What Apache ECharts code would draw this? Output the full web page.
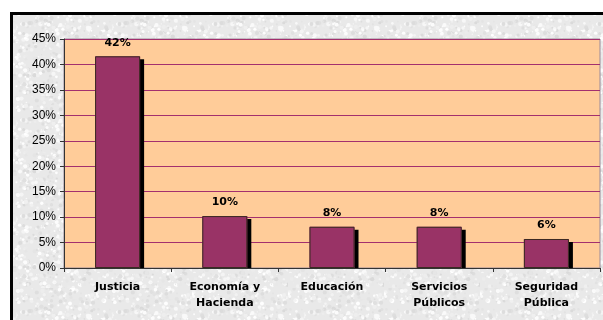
<!DOCTYPE html>
<html>
<head>
<meta charset="utf-8">
<script src="https://cdn.jsdelivr.net/npm/echarts@6/dist/echarts.min.js"></script>
<style>
  html, body { margin: 0; padding: 0; background: #ffffff; }
  #chart { width: 603px; height: 320px; }
</style>
</head>
<body>
<div id="chart"></div>
<script>
// Share of items by area (percent)
const categories = ['Justicia', 'Economía y\nHacienda', 'Educación', 'Servicios\nPúblicos', 'Seguridad\nPública'];
const shares = [41.6, 10.2, 8.1, 8.1, 5.7];
const yTicks = { min: 0, max: 45, step: 5 };

// Light grey stone-like texture for the chart frame
function makeTexture() {
  const c = document.createElement('canvas');
  c.width = 96; c.height = 96;
  const g = c.getContext('2d');
  g.fillStyle = '#e9e9e9';
  g.fillRect(0, 0, 96, 96);
  let s = 12345;
  const rnd = () => { s = (s * 1103515245 + 12345) & 0x7fffffff; return s / 0x7fffffff; };
  for (let i = 0; i < 700; i++) {
    const x = rnd() * 96, y = rnd() * 96, r = 0.6 + rnd() * 1.6;
    const v = Math.round(218 + rnd() * 37);
    g.fillStyle = 'rgb(' + v + ',' + v + ',' + v + ')';
    g.beginPath(); g.arc(x, y, r, 0, Math.PI * 2); g.fill();
  }
  return c;
}
const texture = makeTexture();

const chart = echarts.init(document.getElementById('chart'), null, { renderer: 'canvas' });
const bold = { fontFamily: 'DejaVu Sans', fontWeight: 'bold', fontSize: 11, color: '#000' };

const grid = { left: 64, top: 39, right: 3, bottom: 52 };

chart.setOption({
  backgroundColor: '#ffffff',
  animation: false,
  graphic: [{
    // textured frame with a heavy black edge
    type: 'rect',
    z: -10,
    shape: { x: 11.5, y: 13.5, width: 640, height: 360 },
    style: { fill: { image: texture, repeat: 'repeat' }, stroke: '#000', lineWidth: 3 }
  }, {
    // keep bar shadows inside the plot area
    type: 'rect',
    z: 100,
    silent: true,
    shape: { x: grid.left + 1, y: 320 - grid.bottom + 1, width: 603 - grid.left - grid.right, height: 3 },
    style: { fill: { image: texture, repeat: 'repeat' } }
  }],
  grid: Object.assign({
    show: true, backgroundColor: '#ffcc99', borderColor: '#9a8a98', borderWidth: 1
  }, grid),
  xAxis: {
    type: 'category',
    data: categories,
    boundaryGap: true,
    z: 110,
    axisLine: { lineStyle: { color: '#333', width: 1 } },
    axisTick: { show: true, alignWithLabel: false, length: 4, lineStyle: { color: '#333' } },
    axisLabel: Object.assign({ interval: 0, margin: 11, lineHeight: 16 }, bold)
  },
  yAxis: {
    type: 'value',
    min: yTicks.min, max: yTicks.max, interval: yTicks.step,
    axisLine: { show: true, lineStyle: { color: '#333', width: 1 } },
    axisTick: { show: true, length: 4, lineStyle: { color: '#333' } },
    axisLabel: {
      formatter: v => v + '%',
      fontFamily: 'Liberation Sans', fontSize: 12, color: '#000', margin: 8
    },
    splitLine: { lineStyle: { color: '#a3306e', width: 1 } }
  },
  series: [{
    // filled bars with their drop shadow
    type: 'bar',
    data: shares,
    barWidth: '42%',
    itemStyle: {
      color: '#993366',
      borderWidth: 0,
      shadowColor: '#000',
      shadowBlur: 0,
      shadowOffsetX: 4,
      shadowOffsetY: 3
    },
    label: Object.assign({
      show: true, position: 'top', distance: 8,
      formatter: p => Math.round(p.value) + '%'
    }, bold)
  }, {
    // outline drawn over the same bars
    type: 'bar',
    data: shares,
    barWidth: '42%',
    barGap: '-100%',
    silent: true,
    itemStyle: { color: 'rgba(0,0,0,0)', borderColor: '#3b2a22', borderWidth: 1 }
  }]
});
</script>
</body>
</html>
